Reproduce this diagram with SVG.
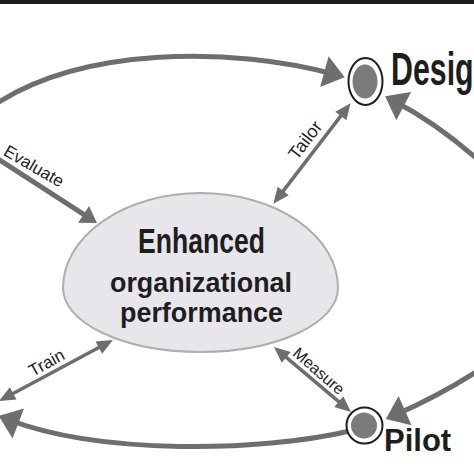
<svg xmlns="http://www.w3.org/2000/svg" width="474" height="474" viewBox="0 0 474 474">
<style>
.arw{fill:none;stroke:#6e6e6e;stroke-width:5}
.thin{fill:none;stroke:#6e6e6e;stroke-width:3.5}
.lbl{font-family:"Liberation Sans",Arial,sans-serif;font-size:17px;fill:#222;text-anchor:middle}
.big{font-family:"Liberation Sans",Arial,sans-serif;font-weight:bold;fill:#1e1e1e}
.ring{fill:#fff;stroke:#1e1e1e;stroke-width:2}
.dot{fill:#7b7b7b}
</style>
<defs>
<marker id="hBig" markerUnits="userSpaceOnUse" markerWidth="22" markerHeight="32" refX="11" refY="16" orient="auto" overflow="visible"><path d="M0,0 L21,16 L0,32 Z" fill="#6e6e6e"/></marker>
<marker id="hMed" markerUnits="userSpaceOnUse" markerWidth="17" markerHeight="20" refX="8" refY="10" orient="auto" overflow="visible"><path d="M0,0 L16,10 L0,20 Z" fill="#6e6e6e"/></marker>
<marker id="hSm" markerUnits="userSpaceOnUse" markerWidth="16" markerHeight="14" refX="8" refY="7" orient="auto-start-reverse" overflow="visible"><path d="M0,0 L16,7 L0,14 Z" fill="#6e6e6e"/></marker>
</defs>
<rect x="0" y="0" width="474" height="474" fill="#fff"/>
<rect x="0" y="0" width="474" height="4" fill="#1c1c1c"/>
<g id="connectors">
<path class="arw" d="M -10 108 C 80 45, 235 47, 335 74.5" marker-end="url(#hBig)"/>
<path class="arw" d="M 485 166 Q 440 125 394 101" marker-end="url(#hBig)"/>
<path class="arw" d="M 485 366 Q 445 393 395 415" marker-end="url(#hBig)"/>
<path class="arw" d="M 350 431 C 260 452, 100 455, 8 419.5" marker-end="url(#hBig)"/>
<path class="arw" d="M -5 157 L 90.3 218.7" marker-end="url(#hMed)"/>
<path class="thin" d="M 278.3 197.4 L 345.7 109.6" marker-start="url(#hSm)" marker-end="url(#hSm)"/>
<path class="thin" d="M 6.1 397.2 L 105.9 343.8" marker-start="url(#hSm)" marker-end="url(#hSm)"/>
<path class="thin" d="M 280.1 352.2 L 344.9 406.8" marker-start="url(#hSm)" marker-end="url(#hSm)"/>
<text class="lbl" transform="translate(34 166) rotate(30)" dy="0.35em">Evaluate</text>
<text class="lbl" style="font-size:18px" transform="translate(305 140) rotate(-52.6)" dy="0.35em">Tailor</text>
<text class="lbl" transform="translate(46.5 362.5) rotate(-29)" dy="0.35em">Train</text>
<text class="lbl" style="font-size:16px" transform="translate(319 371) rotate(41)" dy="0.35em">Measure</text>
</g>
<g id="node-enhanced">
<path d="M 63 288 A 137.5 95 0 0 1 338 288 A 137.5 64 0 0 1 63 288 Z" fill="#e7e7eb" stroke="#aeaeae" stroke-width="2"/>
<text class="big" x="201.5" y="253" font-size="35" text-anchor="middle" textLength="127" lengthAdjust="spacingAndGlyphs">Enhanced</text>
<text class="big" x="201" y="292" font-size="27" text-anchor="middle" textLength="182" lengthAdjust="spacingAndGlyphs">organizational</text>
<text class="big" x="201.5" y="322" font-size="27" text-anchor="middle" textLength="163" lengthAdjust="spacingAndGlyphs">performance</text>
</g>
<g id="node-design">
<ellipse class="ring" cx="365.5" cy="81.5" rx="17" ry="23.5"/>
<ellipse class="dot" cx="365" cy="81.5" rx="12.5" ry="17"/>
<text class="big" font-size="46" transform="translate(391 85) scale(0.66 1)">Desig</text>
</g>
<g id="node-pilot">
<circle class="ring" cx="364.5" cy="425.5" r="18"/>
<circle class="dot" cx="364" cy="425.5" r="13"/>
<text class="big" x="384" y="451" font-size="31">Pilot</text>
</g>
</svg>
